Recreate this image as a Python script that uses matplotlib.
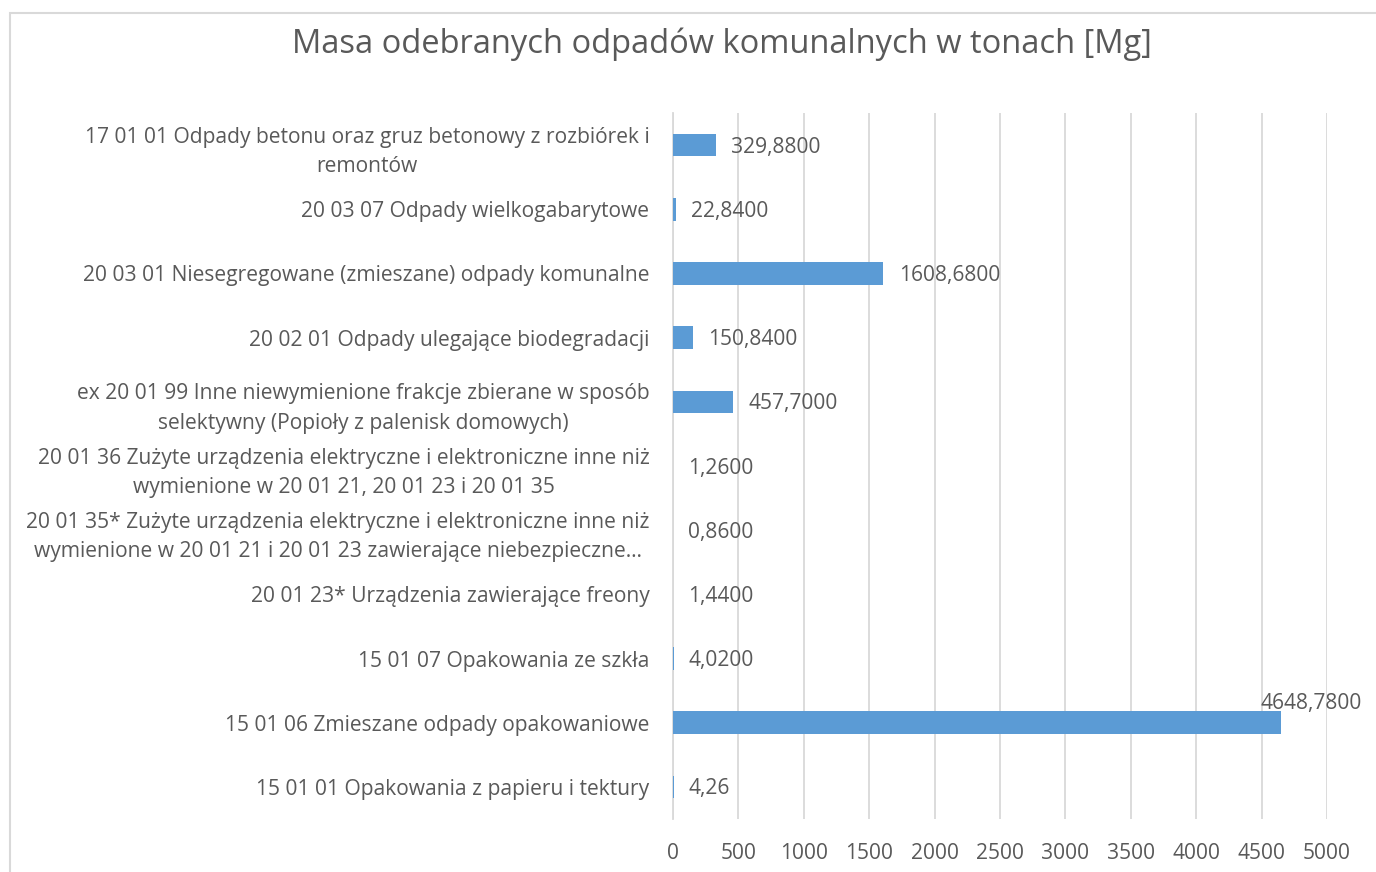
import matplotlib
matplotlib.use("Agg")
import matplotlib.pyplot as plt
from matplotlib.patches import Rectangle

categories = [
    "17 01 01 Odpady betonu oraz gruz betonowy z rozbiórek i\nremontów",
    "20 03 07 Odpady wielkogabarytowe",
    "20 03 01 Niesegregowane (zmieszane) odpady komunalne",
    "20 02 01 Odpady ulegające biodegradacji",
    "ex 20 01 99 Inne niewymienione frakcje zbierane w sposób\nselektywny (Popioły z palenisk domowych)",
    "20 01 36 Zużyte urządzenia elektryczne i elektroniczne inne niż\nwymienione w 20 01 21, 20 01 23 i 20 01 35",
    "20 01 35* Zużyte urządzenia elektryczne i elektroniczne inne niż\nwymienione w 20 01 21 i 20 01 23 zawierające niebezpieczne…",
    "20 01 23* Urządzenia zawierające freony",
    "15 01 07 Opakowania ze szkła",
    "15 01 06 Zmieszane odpady opakowaniowe",
    "15 01 01 Opakowania z papieru i tektury",
]
values = [329.88, 22.84, 1608.68, 150.84, 457.70, 1.26, 0.86, 1.44, 4.02, 4648.78, 4.26]
value_labels = ["329,8800", "22,8400", "1608,6800", "150,8400", "457,7000", "1,2600",
                "0,8600", "1,4400", "4,0200", "4648,7800", "4,26"]
xticks = [0, 500, 1000, 1500, 2000, 2500, 3000, 3500, 4000, 4500, 5000]
title = "Masa odebranych odpadów komunalnych w tonach [Mg]"

W, H = 1376, 872
TXT = "#595959"
BAR = "#5B9BD5"
GRID = "#D9D9D9"
FONT = "Open Sans"
FS = 15.1

fig = plt.figure(figsize=(W / 100, H / 100), dpi=100)
fig.patch.set_facecolor("white")

# chart border
fig.patches.append(Rectangle((9.5 / W, -0.05), 1.2, 1 - 13.5 / H + 0.05,
                             transform=fig.transFigure, fill=False,
                             edgecolor=GRID, linewidth=1.5))

left, right = 673, 1327
top, bottom = 113, 819
ax = fig.add_axes([left / W, 1 - bottom / H, (right - left) / W, (bottom - top) / H])

y = list(range(len(categories)))
ax.barh(y, values, height=0.35, color=BAR, linewidth=0, zorder=3)
ax.set_xlim(0, 5000)
ax.set_ylim(len(categories) - 0.5, -0.5)
ax.set_xticks(xticks)
ax.set_xticklabels([str(t) for t in xticks], fontsize=FS, color=TXT, family=FONT)
ax.set_yticks(y)
ax.set_yticklabels(categories, fontsize=FS, color=TXT, family=FONT)
for t in ax.get_yticklabels():
    t.set_multialignment("center")
    t.set_linespacing(1.55)
ax.tick_params(axis="y", length=0, pad=17)
ax.tick_params(axis="x", length=0, pad=17)
ax.grid(axis="x", color=GRID, linewidth=1.3, zorder=0)
for s in ["top", "right", "bottom"]:
    ax.spines[s].set_visible(False)
ax.spines["left"].set_color(GRID)
ax.spines["left"].set_linewidth(1.3)

for i, (v, lab) in enumerate(zip(values, value_labels)):
    if v > 4000:
        ax.annotate(lab, xy=(v, i), xytext=(22, 14), textcoords="offset points",
                    ha="center", va="center", fontsize=FS, color=TXT, family=FONT,
                    annotation_clip=False)
    else:
        ax.annotate(lab, xy=(v, i), xytext=(11, -1.5), textcoords="offset points",
                    ha="left", va="center", fontsize=FS, color=TXT, family=FONT)

fig.text(722 / W, 1 - 44 / H, title, ha="center", va="center",
         fontsize=23.5, color=TXT, family=FONT)

fig.savefig("out.png", dpi=100)
